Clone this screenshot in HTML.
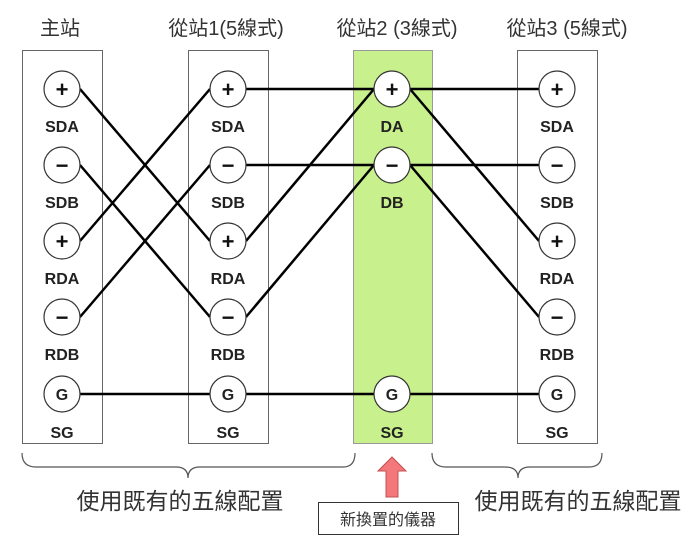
<!DOCTYPE html>
<html><head><meta charset="utf-8"><style>
body{margin:0;background:#fff}
svg{display:block}
.t{font-family:"Liberation Sans","Noto Sans CJK TC",sans-serif;font-size:20px;fill:#333;text-anchor:middle}
.l{font-family:"Liberation Sans",sans-serif;font-size:16px;font-weight:bold;fill:#222;text-anchor:middle}
.s{font-family:"Liberation Sans",sans-serif;font-size:22px;font-weight:bold;fill:#111;text-anchor:middle}
</style></head><body>
<svg width="700" height="540" viewBox="0 0 700 540">
<text class="t" x="60" y="35">主站</text>
<text class="t" x="226" y="35">從站1(5線式)</text>
<text class="t" x="397" y="35">從站2 (3線式)</text>
<text class="t" x="567" y="35">從站3 (5線式)</text>
<rect x="22.5" y="50.5" width="80" height="393" fill="#fff" stroke="#666"/>
<rect x="188.5" y="50.5" width="80" height="393" fill="#fff" stroke="#666"/>
<rect x="353.5" y="50.5" width="79" height="393" fill="#c8f08c" stroke="#999"/>
<rect x="517.5" y="50.5" width="80" height="393" fill="#fff" stroke="#666"/>
<g stroke="#000" stroke-width="2.5" fill="none">
<line x1="80" y1="89" x2="210" y2="241"/>
<line x1="80" y1="165" x2="210" y2="317"/>
<line x1="80" y1="241" x2="210" y2="89"/>
<line x1="80" y1="317" x2="210" y2="165"/>
<line x1="246" y1="89" x2="374" y2="89"/>
<line x1="246" y1="165" x2="374" y2="165"/>
<line x1="246" y1="241" x2="374" y2="89"/>
<line x1="246" y1="317" x2="374" y2="165"/>
<line x1="410" y1="89" x2="539" y2="89"/>
<line x1="410" y1="165" x2="539" y2="165"/>
<line x1="410" y1="89" x2="539" y2="241"/>
<line x1="410" y1="165" x2="539" y2="317"/>
<line x1="80" y1="394" x2="539" y2="394"/>
</g>
<g stroke="#333" stroke-width="1.2" fill="#fff">
<circle cx="62" cy="89" r="18"/><circle cx="62" cy="165" r="18"/><circle cx="62" cy="241" r="18"/><circle cx="62" cy="317" r="18"/><circle cx="62" cy="394" r="18"/>
<circle cx="228" cy="89" r="18"/><circle cx="228" cy="165" r="18"/><circle cx="228" cy="241" r="18"/><circle cx="228" cy="317" r="18"/><circle cx="228" cy="394" r="18"/>
<circle cx="392" cy="89" r="18"/><circle cx="392" cy="165" r="18"/><circle cx="392" cy="394" r="18"/>
<circle cx="557" cy="89" r="18"/><circle cx="557" cy="165" r="18"/><circle cx="557" cy="241" r="18"/><circle cx="557" cy="317" r="18"/><circle cx="557" cy="394" r="18"/>
</g>
<g>
<text class="s" x="62" y="97">+</text><text class="s" x="62" y="173">−</text><text class="s" x="62" y="249">+</text><text class="s" x="62" y="325">−</text>
<text class="s" x="228" y="97">+</text><text class="s" x="228" y="173">−</text><text class="s" x="228" y="249">+</text><text class="s" x="228" y="325">−</text>
<text class="s" x="392" y="97">+</text><text class="s" x="392" y="173">−</text>
<text class="s" x="557" y="97">+</text><text class="s" x="557" y="173">−</text><text class="s" x="557" y="249">+</text><text class="s" x="557" y="325">−</text>
<text class="l" x="62" y="400">G</text><text class="l" x="228" y="400">G</text><text class="l" x="392" y="400">G</text><text class="l" x="557" y="400">G</text>
</g>
<g>
<text class="l" x="62" y="132">SDA</text><text class="l" x="62" y="208">SDB</text><text class="l" x="62" y="284">RDA</text><text class="l" x="62" y="360">RDB</text><text class="l" x="62" y="438">SG</text>
<text class="l" x="228" y="132">SDA</text><text class="l" x="228" y="208">SDB</text><text class="l" x="228" y="284">RDA</text><text class="l" x="228" y="360">RDB</text><text class="l" x="228" y="438">SG</text>
<text class="l" x="392" y="132">DA</text><text class="l" x="392" y="208">DB</text><text class="l" x="392" y="438">SG</text>
<text class="l" x="557" y="132">SDA</text><text class="l" x="557" y="208">SDB</text><text class="l" x="557" y="284">RDA</text><text class="l" x="557" y="360">RDB</text><text class="l" x="557" y="438">SG</text>
</g>
<g stroke="#555" stroke-width="1.2" fill="none">
<path d="M22,453 Q22,467 36,467 L176,467 Q188,467 188,478 Q188,467 200,467 L343,467 Q355,467 355,453"/>
<path d="M432,453 Q432,467 446,467 L505,467 Q518,467 518,478 Q518,467 530,467 L589,467 Q602,467 602,453"/>
</g>
<text class="t" x="180" y="509" style="font-size:23px">使用既有的五線配置</text>
<text class="t" x="578" y="509" style="font-size:23px">使用既有的五線配置</text>
<path d="M386,497 L386,471 L378,471 L392,457 L406,471 L398,471 L398,497 Z" fill="#f4777c" stroke="#c05050" stroke-width="1"/>
<rect x="318.5" y="502.5" width="140" height="32" fill="#fff" stroke="#333"/>
<text class="t" x="388" y="525" style="font-size:16px">新換置的儀器</text>
</svg>
</body></html>
